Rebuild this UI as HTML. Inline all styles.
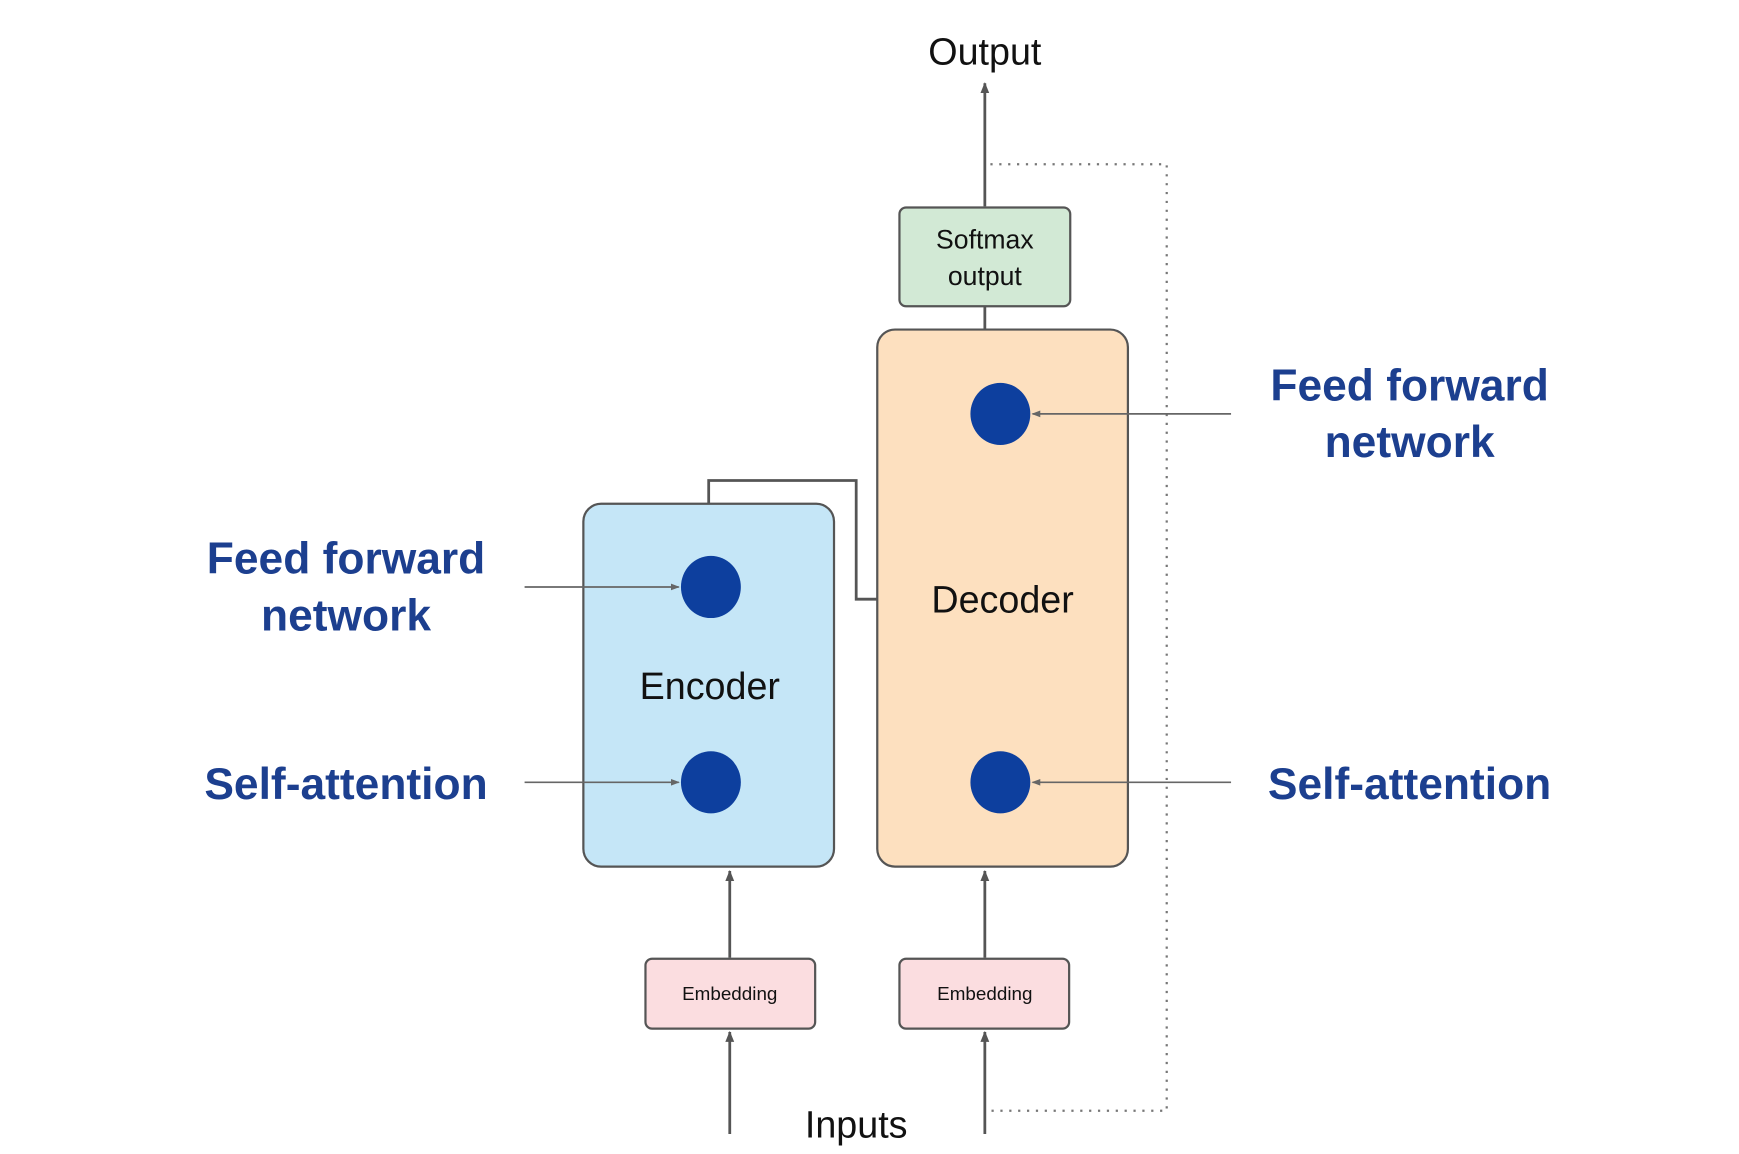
<!DOCTYPE html>
<html><head><meta charset="utf-8"><style>html,body{margin:0;padding:0;background:#fff}svg{display:block}</style></head>
<body>
<svg width="1739" height="1154" viewBox="0 0 1568 1040" preserveAspectRatio="none" xmlns="http://www.w3.org/2000/svg" font-family="Liberation Sans, sans-serif">
<defs>
<marker id="a" markerWidth="10" markerHeight="10" refX="9" refY="5" orient="auto" markerUnits="userSpaceOnUse"><path d="M0,1 L10,5 L0,9 z" fill="#555"/></marker>
<marker id="s" markerWidth="8" markerHeight="8" refX="7" refY="4" orient="auto" markerUnits="userSpaceOnUse"><path d="M0,1 L8,4 L0,7 z" fill="#666"/></marker>
</defs>
<text x="888" y="58" font-size="34" text-anchor="middle" fill="#111">Output</text>
<line x1="888" y1="186" x2="888" y2="75" stroke="#555" stroke-width="2.5" marker-end="url(#a)"/>
<path d="M893,148 H1052 V1001 H893" fill="none" stroke="#777" stroke-width="2" stroke-dasharray="2,6"/>
<rect x="811" y="187" width="154" height="89" rx="6" fill="#d2e9d5" stroke="#555" stroke-width="2"/>
<text x="888" y="224" font-size="24" text-anchor="middle" fill="#111">Softmax</text>
<text x="888" y="257" font-size="24" text-anchor="middle" fill="#111">output</text>
<line x1="888" y1="276" x2="888" y2="297" stroke="#555" stroke-width="2.5"/>
<rect x="791" y="297" width="226" height="484" rx="16" fill="#fde0bf" stroke="#555" stroke-width="2"/>
<text x="904" y="552" font-size="34" text-anchor="middle" fill="#111">Decoder</text>
<rect x="526" y="454" width="226" height="327" rx="16" fill="#c5e6f7" stroke="#555" stroke-width="2"/>
<text x="640" y="630" font-size="34" text-anchor="middle" fill="#111">Encoder</text>
<path d="M639,454 V433 H772 V540 H791" fill="none" stroke="#555" stroke-width="2.5"/>
<g fill="#0d3f9e">
<ellipse cx="641" cy="529" rx="27" ry="28"/><ellipse cx="641" cy="705" rx="27" ry="28"/>
<ellipse cx="902" cy="373" rx="27" ry="28"/><ellipse cx="902" cy="705" rx="27" ry="28"/>
</g>
<g stroke="#666" stroke-width="1.5">
<line x1="473" y1="529" x2="612" y2="529" marker-end="url(#s)"/>
<line x1="473" y1="705" x2="612" y2="705" marker-end="url(#s)"/>
<line x1="1110" y1="373" x2="931" y2="373" marker-end="url(#s)"/>
<line x1="1110" y1="705" x2="931" y2="705" marker-end="url(#s)"/>
</g>
<g font-size="40" font-weight="bold" fill="#1c3f8f" text-anchor="middle">
<text x="312" y="517">Feed forward</text><text x="312" y="568">network</text>
<text x="312" y="720">Self-attention</text>
<text x="1271" y="361">Feed forward</text><text x="1271" y="412">network</text>
<text x="1271" y="720">Self-attention</text>
</g>
<rect x="582" y="864" width="153" height="63" rx="6" fill="#fbdde0" stroke="#555" stroke-width="2"/>
<rect x="811" y="864" width="153" height="63" rx="6" fill="#fbdde0" stroke="#555" stroke-width="2"/>
<text x="658" y="901" font-size="17" text-anchor="middle" fill="#111">Embedding</text>
<text x="888" y="901" font-size="17" text-anchor="middle" fill="#111">Embedding</text>
<g stroke="#555" stroke-width="2.5">
<line x1="658" y1="863" x2="658" y2="785" marker-end="url(#a)"/>
<line x1="888" y1="863" x2="888" y2="785" marker-end="url(#a)"/>
<line x1="658" y1="1022" x2="658" y2="930" marker-end="url(#a)"/>
<line x1="888" y1="1022" x2="888" y2="930" marker-end="url(#a)"/>
</g>
<text x="772" y="1025" font-size="34" text-anchor="middle" fill="#111">Inputs</text>
</svg>
</body></html>
